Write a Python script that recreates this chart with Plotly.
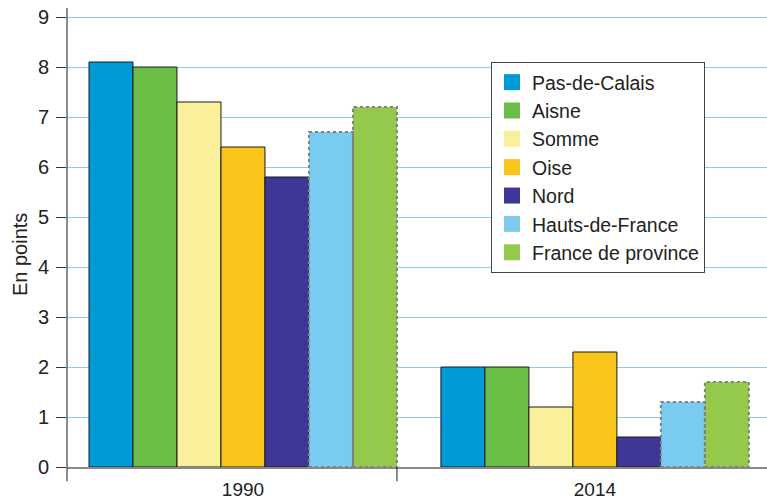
import plotly.graph_objects as go

years = ["1990", "2014"]
series = ["Pas-de-Calais", "Aisne", "Somme", "Oise", "Nord", "Hauts-de-France", "France de province"]
values = {
    "Pas-de-Calais": [8.1, 2.0],
    "Aisne": [8.0, 2.0],
    "Somme": [7.3, 1.2],
    "Oise": [6.4, 2.3],
    "Nord": [5.8, 0.6],
    "Hauts-de-France": [6.7, 1.3],
    "France de province": [7.2, 1.7],
}
colors = ["#009ad8", "#6abd45", "#faf09c", "#f9c51b", "#3e3795", "#79cbef", "#95c94c"]
dotted = ["Hauts-de-France", "France de province"]
y_ticks = list(range(0, 10))
y_title = "En points"

FONT = "Liberation Sans, Arial, sans-serif"
bargap = 0.125
n = len(series)
group_w = 1 - bargap
bar_w = group_w / n

fig = go.Figure()
shapes = []
for i, (s, c) in enumerate(zip(series, colors)):
    is_dot = s in dotted
    fig.add_trace(go.Bar(
        x=years, y=values[s], name=s, showlegend=False, hoverinfo="skip",
        marker=dict(color=c, line=dict(color="#1a1a1a", width=0 if is_dot else 1)),
    ))
    fig.add_trace(go.Scatter(
        x=[None], y=[None], mode="markers", name=s, hoverinfo="skip",
        marker=dict(symbol="square", size=16, color=c, line=dict(width=0)),
    ))
    if is_dot:
        for k, v in enumerate(values[s]):
            x0 = k - group_w / 2 + bar_w * i
            shapes.append(dict(type="rect", xref="x", yref="y", x0=x0, x1=x0 + bar_w,
                               y0=0, y1=v, line=dict(color="#808080", width=2, dash="dot")))

# axis line extension and group separator tick
shapes.append(dict(type="line", xref="paper", yref="paper", x0=0, x1=0, y0=-0.031, y1=1,
                   line=dict(color="#1a1a1a", width=1)))
shapes.append(dict(type="line", xref="x", yref="paper", x0=group_w / 2, x1=group_w / 2,
                   y0=0, y1=-0.031, line=dict(color="#1a1a1a", width=1)))

fig.update_layout(
    width=767, height=501,
    margin=dict(l=67, r=0, t=8, b=34),
    barmode="group", bargap=bargap, bargroupgap=0,
    plot_bgcolor="white", paper_bgcolor="white",
    font=dict(family=FONT, color="#222222", size=19),
    showlegend=True,
    legend=dict(x=0.6057, y=0.8824, xanchor="left", yanchor="top",
                bordercolor="#444444", borderwidth=1, bgcolor="white",
                font=dict(size=19.5, family=FONT, color="#222222"),
                tracegroupgap=0, itemwidth=30),
    shapes=shapes,
    annotations=[dict(text=y_title, xref="paper", yref="paper", x=-0.067, y=0.462,
                      textangle=-90, showarrow=False, xanchor="center", yanchor="middle",
                      font=dict(size=20, family=FONT, color="#222222"))],
    xaxis=dict(range=[-0.5, 1.489], showline=True, linecolor="#888888", linewidth=1.5,
               ticks="", showgrid=False, tickfont=dict(size=19), fixedrange=True,
               automargin=False, ticklabelstandoff=4),
    yaxis=dict(range=[0, 9.18], tickvals=y_ticks, showgrid=True, gridcolor="#8ecbf0",
               gridwidth=1, zeroline=False, showline=False, ticks="outside", ticklen=10,
               tickcolor="#333333", tickfont=dict(size=20), automargin=False, fixedrange=True,
               ticklabelstandoff=3, ticklabeloverflow="allow"),
)

fig.write_html("out.html", config={"displayModeBar": False},
               post_script="document.body.style.margin='0';")
